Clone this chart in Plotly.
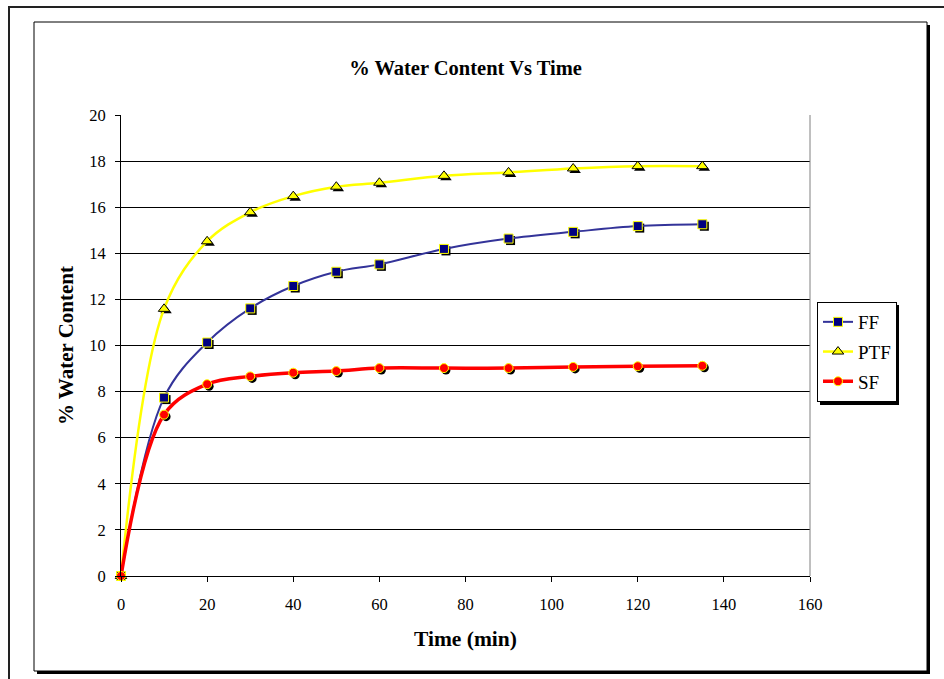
import plotly.graph_objects as go

# ---- data ----
time_min = [0, 10, 20, 30, 40, 50, 60, 75, 90, 105, 120, 135]
ff = [0, 7.74, 10.13, 11.61, 12.58, 13.2, 13.52, 14.19, 14.64, 14.93, 15.18, 15.26]
ptf = [0, 11.59, 14.52, 15.78, 16.48, 16.89, 17.06, 17.36, 17.51, 17.68, 17.78, 17.78]
sf = [0, 7.0, 8.32, 8.66, 8.82, 8.89, 9.02, 9.02, 9.02, 9.07, 9.1, 9.12]

x_ticks = [0, 20, 40, 60, 80, 100, 120, 140, 160]
y_ticks = [0, 2, 4, 6, 8, 10, 12, 14, 16, 18, 20]

# ---- layout geometry (pixels) ----
W, H = 944, 679
L, R, T, B = 121, 810, 115, 576
X_MAX, Y_MAX = 160, 20
px_x = X_MAX / (R - L)
px_y = Y_MAX / (B - T)

def px(xp):
    return (xp - L) / (R - L)

def py(yp):
    return (B - yp) / (B - T)

FONT = "Liberation Serif, Times New Roman, serif"

series = [
    dict(name="FF", y=ff, line=dict(color="#333399", width=2),
         marker=dict(symbol="square", size=9, color="#000080",
                     line=dict(color="#FFFF00", width=1))),
    dict(name="PTF", y=ptf, line=dict(color="#FFFF00", width=2.5),
         marker=dict(symbol="triangle-up", size=10, color="#FFFF00",
                     line=dict(color="#000000", width=1))),
    dict(name="SF", y=sf, line=dict(color="#FF0000", width=3.5),
         marker=dict(symbol="circle", size=9, color="#FF0000",
                     line=dict(color="#FFFF00", width=1))),
]

fig = go.Figure()
shadow_dx = 2 * px_x
shadow_dy = 2 * px_y
for i, s in enumerate(series):
    fig.add_trace(go.Scatter(
        x=[v + shadow_dx for v in time_min],
        y=[v - shadow_dy for v in s["y"]],
        mode="markers",
        marker=dict(symbol=s["marker"]["symbol"], size=s["marker"]["size"],
                    color="#000000", line=dict(width=0)),
        showlegend=False, hoverinfo="skip", cliponaxis=False,
    ))
    fig.add_trace(go.Scatter(
        x=time_min, y=s["y"], name=s["name"], mode="lines+markers",
        line=dict(color=s["line"]["color"], width=s["line"]["width"], shape="spline", smoothing=1.0),
        marker=s["marker"], cliponaxis=False, legendgroup=s["name"],
    ))

shapes = [
    # outer frame
    dict(type="rect", xref="paper", yref="paper", x0=px(9), x1=px(960), y0=py(700), y1=py(7),
         line=dict(color="#222222", width=2), fillcolor="rgba(0,0,0,0)", layer="below"),
    # inner chart box shadow
    dict(type="rect", xref="paper", yref="paper", x0=px(37), x1=px(930), y0=py(674), y1=py(25),
         line=dict(width=0), fillcolor="#000000", layer="below"),
    dict(type="rect", xref="paper", yref="paper", x0=px(34), x1=px(927), y0=py(671), y1=py(22),
         line=dict(color="#000000", width=1), fillcolor="#FFFFFF", layer="below"),
    # plot area right border
    dict(type="line", xref="paper", yref="paper", x0=1, x1=1, y0=0, y1=1,
         line=dict(color="#808080", width=1)),
    # legend shadow (drawn behind the legend box)
    dict(type="rect", xref="paper", yref="paper", x0=px(820), x1=px(899), y0=py(405), y1=py(305),
         line=dict(width=0), fillcolor="#000000", layer="above"),
]

fig.update_layout(
    width=W, height=H,
    margin=dict(l=L, r=W - R, t=T, b=H - B, pad=0),
    paper_bgcolor="#FFFFFF", plot_bgcolor="rgba(0,0,0,0)",
    font=dict(family=FONT, size=16, color="#000000"),
    title=dict(text="<b>% Water Content Vs Time</b>", xref="paper", x=0.5, xanchor="center",
               y=1 - 68 / H, yanchor="middle", font=dict(family=FONT, size=20.5)),
    xaxis=dict(range=[0, X_MAX], tickvals=x_ticks, ticks="outside", ticklen=5,
               tickcolor="#000000", showline=True, linecolor="#000000", linewidth=1,
               showgrid=False, zeroline=False, tickfont=dict(size=16.5), ticklabelstandoff=8,
               title=dict(text="<b>Time (min)</b>", font=dict(size=21.5), standoff=18)),
    yaxis=dict(range=[0, Y_MAX], tickvals=y_ticks, ticks="outside", ticklen=5,
               tickcolor="#000000", showline=True, linecolor="#000000", linewidth=1,
               showgrid=True, gridcolor="#000000", gridwidth=1, zeroline=False,
               tickfont=dict(size=16.5), ticklabelstandoff=6,
               title=dict(text="<b>% Water Content</b>", font=dict(size=21), standoff=9)),
    legend=dict(x=px(817), y=py(302), xanchor="left", yanchor="top",
                bgcolor="#FFFFFF", bordercolor="#000000", borderwidth=1,
                font=dict(size=19), traceorder="grouped", tracegroupgap=2,
                itemwidth=30),
    shapes=shapes,
    showlegend=True,
)

fig.write_html("out.html")
